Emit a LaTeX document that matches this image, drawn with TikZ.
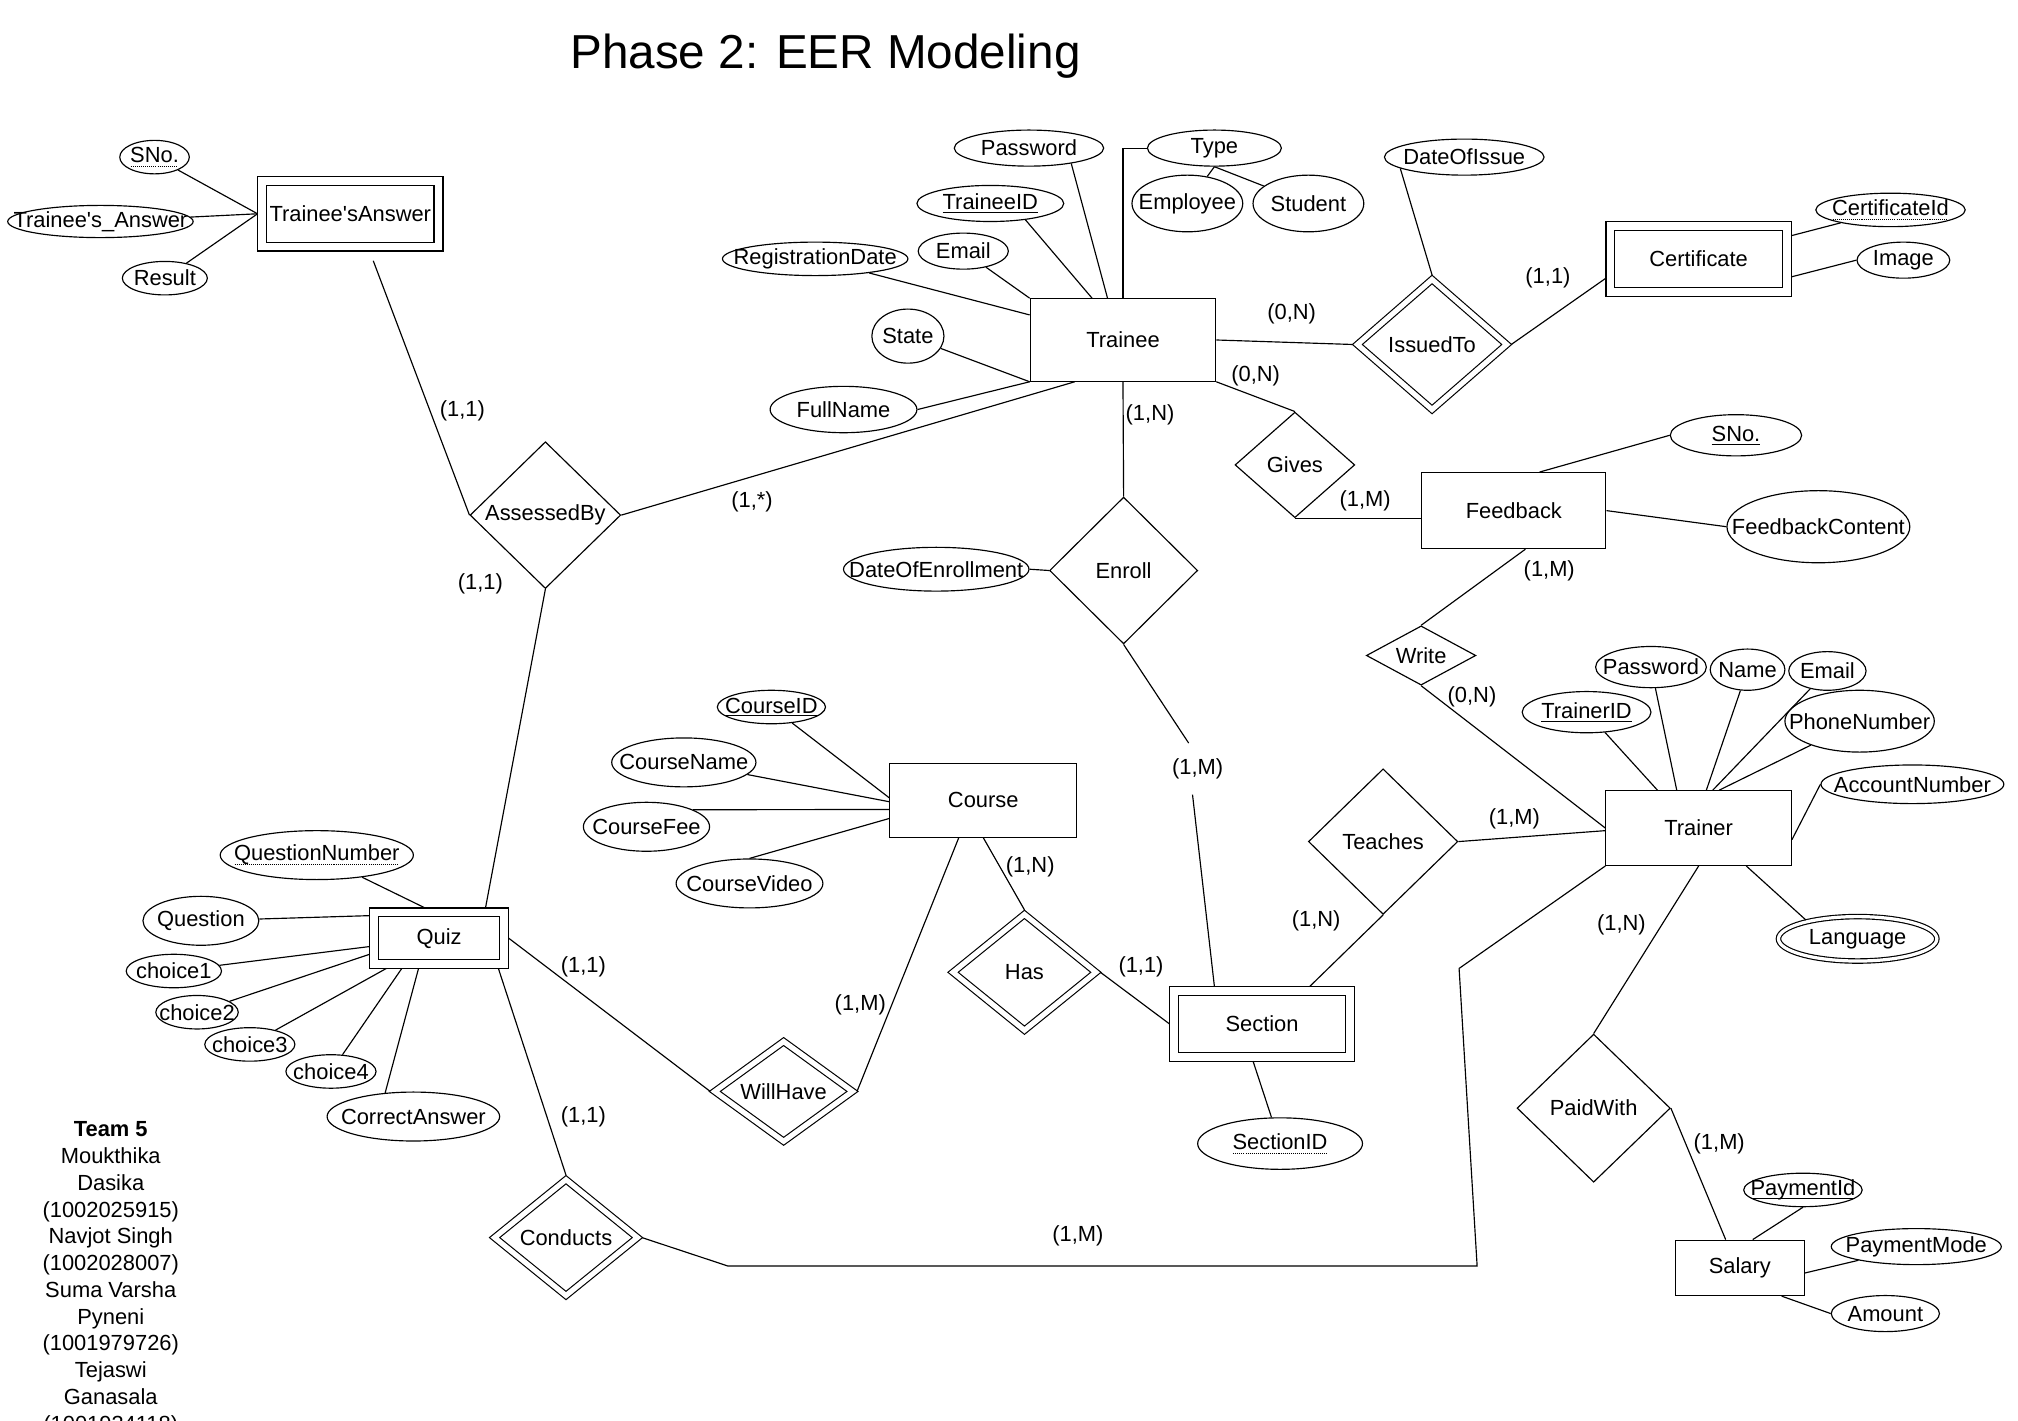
\documentclass[tikz,border=0pt]{standalone}
\usepackage{fontspec}
\setmainfont{Liberation Sans}[Ligatures=TeXOff]
\usetikzlibrary{shapes.geometric}
\newcommand{\attrtext}[1]{\makebox[0pt]{#1}}
\newcommand{\fullkey}[1]{\setbox0=\hbox{#1}\rlap{\raisebox{-2.5pt}{\rule{\wd0}{0.8pt}}}\box0}
\newcommand{\partkey}[1]{\setbox0=\hbox{#1}\rlap{\raisebox{-3pt}{\hbox to\wd0{\leaders\hbox to 1.6pt{\hss\rule{0.8pt}{0.7pt}\hss}\hfill}}}\box0}

\begin{document}
\begin{tikzpicture}[x=1pt,y=-1pt,line width=0.9pt,
every node/.style={font=\fontsize{17}{20}\selectfont},
entity/.style={rectangle,draw,inner sep=0pt},
weak/.style={entity,double,double distance=6pt,outer sep=3.5pt},
rel/.style={diamond,draw,inner sep=0pt,aspect=1},
wrel/.style={rel,double,double distance=4pt,outer sep=2.5pt},
attr/.style={ellipse,draw,inner sep=0pt},
mattr/.style={attr,double,double distance=2.5pt,outer sep=1.75pt},
card/.style={inner sep=1pt}]
\useasboundingbox (0,0) rectangle (1567,1102.7);
\node[font=\fontsize{37}{44}\selectfont] (title) at (641,44) {Phase 2: EER Modeling};

\node[entity, minimum width=144pt, minimum height=64pt] (trainee) at (872,264) {Trainee};
\node[entity, minimum width=143pt, minimum height=59pt] (feedback) at (1175.5,396.5) {Feedback};
\node[entity, minimum width=144pt, minimum height=58pt] (trainer) at (1319,643) {Trainer};
\node[entity, minimum width=145pt, minimum height=57pt] (course) at (763.5,621.5) {Course};
\node[entity, minimum width=100pt, minimum height=43pt] (salary) at (1351,984.5) {Salary};
\node[weak, minimum width=137pt, minimum height=51pt] (ta) at (272,166) {Trainee'sAnswer};
\node[weak, minimum width=137pt, minimum height=51pt] (cert) at (1319,201) {Certificate};
\node[weak, minimum width=137pt, minimum height=51pt] (section) at (980,795) {Section};
\node[weak, minimum width=101pt, minimum height=40pt] (quiz) at (341,728.5) {Quiz};

\node[rel, minimum width=117pt, minimum height=114pt] (ab) at (423.5,400) {AssessedBy};
\node[rel, minimum width=93pt, minimum height=82pt] (gives) at (1005.5,361) {Gives};
\node[rel, aspect=2, minimum width=85pt, minimum height=46pt] (write) at (1103.5,509) {Write};
\node[rel, minimum width=115pt, minimum height=114pt] (enroll) at (872.5,443) {Enroll};
\node[rel, minimum width=116pt, minimum height=113pt] (teaches) at (1074,653.5) {Teaches};
\node[rel, minimum width=119pt, minimum height=115pt] (paid) at (1237.5,860.5) {PaidWith};
\node[wrel, minimum width=118pt, minimum height=103pt] (issued) at (1112,267.5) {IssuedTo};
\node[wrel, minimum width=113pt, minimum height=92pt] (has) at (795.5,755) {Has};
\node[wrel, minimum width=109pt, minimum height=79pt] (wh) at (608.5,847.5) {WillHave};
\node[wrel, minimum width=113pt, minimum height=92pt] (cond) at (439.5,961) {Conducts};

\node[attr, minimum width=54pt, minimum height=26pt] (sno1) at (120,122) {\attrtext{\partkey{SNo.}}};
\node[attr, minimum width=144pt, minimum height=25pt] (tans) at (78,172) {\attrtext{Trainee's\_Answer}};
\node[attr, minimum width=66pt, minimum height=26pt] (result) at (128,216) {\attrtext{Result}};
\node[attr, minimum width=116pt, minimum height=28pt] (pw1) at (799,115) {\attrtext{Password}};
\node[attr, minimum width=104pt, minimum height=28pt] (ty) at (943,115) {\attrtext{Type}};
\node[attr, minimum width=86pt, minimum height=44pt] (emp) at (922,158) {\attrtext{Employee}};
\node[attr, minimum width=86pt, minimum height=44pt] (stu) at (1016,158) {\attrtext{Student}};
\node[attr, minimum width=114pt, minimum height=28pt] (tid) at (769,158) {\attrtext{\fullkey{TraineeID}}};
\node[attr, minimum width=70pt, minimum height=28pt] (em1) at (748,195) {\attrtext{Email}};
\node[attr, minimum width=144pt, minimum height=26pt] (rd) at (633,201) {\attrtext{RegistrationDate}};
\node[attr, minimum width=56pt, minimum height=42pt] (st) at (705,261) {\attrtext{State}};
\node[attr, minimum width=114pt, minimum height=36pt] (fn) at (655,318) {\attrtext{FullName}};
\node[attr, minimum width=124pt, minimum height=28pt] (doi) at (1137,122) {\attrtext{DateOfIssue}};
\node[attr, minimum width=116pt, minimum height=26pt] (cid) at (1468,163) {\attrtext{\partkey{CertificateId}}};
\node[attr, minimum width=72pt, minimum height=28pt] (img) at (1478,202) {\attrtext{Image}};
\node[attr, minimum width=102pt, minimum height=32pt] (sno2) at (1348,338) {\attrtext{\fullkey{SNo.}}};
\node[attr, minimum width=142pt, minimum height=56pt] (fc) at (1412,409) {\attrtext{FeedbackContent}};
\node[attr, minimum width=100pt, minimum height=32pt] (trid) at (1232,553) {\attrtext{\fullkey{TrainerID}}};
\node[attr, minimum width=86pt, minimum height=32pt] (pw2) at (1282,518) {\attrtext{Password}};
\node[attr, minimum width=58pt, minimum height=32pt] (nm) at (1357,520) {\attrtext{Name}};
\node[attr, minimum width=60pt, minimum height=30pt] (em2) at (1419,521) {\attrtext{Email}};
\node[attr, minimum width=116pt, minimum height=48pt] (ph) at (1444,560) {\attrtext{PhoneNumber}};
\node[attr, minimum width=142pt, minimum height=30pt] (acc) at (1485,609) {\attrtext{AccountNumber}};
\node[mattr, minimum width=123pt, minimum height=34.5pt] (lang) at (1442.5,729) {\attrtext{Language}};
\node[attr, minimum width=92pt, minimum height=26pt] (pid) at (1400,924) {\attrtext{\fullkey{PaymentId}}};
\node[attr, minimum width=132pt, minimum height=28pt] (pm) at (1488,968) {\attrtext{PaymentMode}};
\node[attr, minimum width=84pt, minimum height=28pt] (amt) at (1464,1020) {\attrtext{Amount}};
\node[attr, minimum width=144pt, minimum height=34pt] (doe) at (727,442) {\attrtext{DateOfEnrollment}};
\node[attr, minimum width=128pt, minimum height=40pt] (sid) at (994,888) {\attrtext{\partkey{SectionID}}};
\node[attr, minimum width=84pt, minimum height=26pt] (courseid) at (599,549) {\attrtext{\fullkey{CourseID}}};
\node[attr, minimum width=112pt, minimum height=38pt] (cname) at (531,592) {\attrtext{CourseName}};
\node[attr, minimum width=98pt, minimum height=38pt] (cfee) at (502,642) {\attrtext{CourseFee}};
\node[attr, minimum width=114pt, minimum height=38pt] (cvid) at (582,686) {\attrtext{CourseVideo}};
\node[attr, minimum width=150pt, minimum height=38pt] (qn) at (246,664) {\attrtext{\partkey{QuestionNumber}}};
\node[attr, minimum width=90pt, minimum height=38pt] (q) at (156,715) {\attrtext{Question}};
\node[attr, minimum width=74pt, minimum height=26pt] (ch1) at (135,754) {\attrtext{choice1}};
\node[attr, minimum width=64pt, minimum height=26pt] (ch2) at (153,786) {\attrtext{choice2}};
\node[attr, minimum width=70pt, minimum height=26pt] (ch3) at (194,811) {\attrtext{choice3}};
\node[attr, minimum width=70pt, minimum height=26pt] (ch4) at (257,832) {\attrtext{choice4}};
\node[attr, minimum width=134pt, minimum height=38pt] (ca) at (321,867) {\attrtext{CorrectAnswer}};

\coordinate (k1) at (1133,752);
\coordinate (k2) at (1147,983);
\coordinate (k3) at (565,983);
\coordinate (kE1) at (923,577);
\coordinate (kE2) at (926,617);

\draw (sno1) -- (ta.west);
\draw (tans) -- (ta.west);
\draw (result) -- (ta.west);
\draw[shorten <=8pt] ([xshift=15pt]ta.south) -- (ab.west);
\draw (ab.east) -- ([xshift=35pt]trainee.south west);
\draw (ab.south) -- ([xshift=36pt]quiz.north);

\draw (qn) -- ([xshift=-11pt]quiz.north);
\draw (q) -- ([yshift=-6pt]quiz.north west);
\draw (ch1) -- ([yshift=-30pt]quiz.north west);
\draw (ch2) -- ([yshift=-36pt]quiz.north west);
\draw (ch3) -- ([xshift=13pt]quiz.south west);
\draw (ch4) -- ([xshift=25pt]quiz.south west);
\draw (ca.140) -- ([xshift=38pt]quiz.south west);
\draw (quiz.east) -- (wh.west);
\draw ([xshift=46pt]quiz.south) -- (cond.north);

\draw (courseid) -- ([yshift=-27pt]course.north west);
\draw (cname) -- ([yshift=-30pt]course.north west);
\draw (cfee.20) -- ([yshift=-36pt]course.north west);
\draw (cvid.north) -- ([yshift=-43pt]course.north west);
\draw (course.south) -- (has.north);
\draw ([xshift=-19pt]course.south) -- (wh.east);
\draw (has.east) -- (section.west);

\draw (sid) -- ([xshift=-7pt]section.south);
\draw (enroll.south) -- (kE1);
\draw (kE2) -- ([xshift=-37pt]section.north);
\draw (teaches.south) -- ([xshift=37pt]section.north);

\draw (pw1.-20) -- ([xshift=-12pt]trainee.north);
\draw (trainee.north) |- (ty.west);
\draw (ty.south) -- (emp);
\draw (ty.south) -- (stu);
\draw (tid.-25) -- ([xshift=-24pt]trainee.north);
\draw (em1) -- (trainee.north west);
\draw (rd) -- ([yshift=-13pt]trainee.north west);
\draw (st) -- (trainee.south west);
\draw (fn.east) -- (trainee.south west);
\draw (trainee.east) -- (issued.west);
\draw (trainee.south east) -- (gives.north);
\draw (trainee.south) -- (enroll.north);
\draw (doe.east) -- (enroll.west);

\draw (doi.190) -- (issued.north);
\draw (issued.east) -- ([yshift=-15pt]cert.west);
\draw ([yshift=18pt]cert.east) -- (cid);
\draw ([yshift=-14pt]cert.east) -- (img.west);

\draw (gives.south) -- (gives.south -| feedback.west);
\draw ([xshift=20pt]feedback.north) -- (sno2.west);
\draw (feedback.east) -- (fc.west);
\draw ([xshift=9pt]feedback.south) -- (write.north);
\draw (write.south) -- (trainer.west);

\draw (trid) -- ([xshift=-32pt]trainer.north);
\draw (pw2) -- ([xshift=-17pt]trainer.north);
\draw (nm) -- ([xshift=6pt]trainer.north);
\draw (em2) -- ([xshift=11pt]trainer.north);
\draw (ph) -- ([xshift=16pt]trainer.north);
\draw ([yshift=-9pt]trainer.east) -- (acc.west);
\draw ([xshift=37pt]trainer.south) -- (lang.160);
\draw (teaches.east) -- ([yshift=-2pt]trainer.west);
\draw (trainer.south) -- (paid.north);
\draw (trainer.south west) -- (k1) -- (k2) -- (k3) -- (cond.east);

\draw (paid.east) -- ([xshift=-11pt]salary.north);
\draw (pid.south) -- ([xshift=10pt]salary.north);
\draw ([yshift=-4pt]salary.east) -- (pm);
\draw ([xshift=-18pt]salary.south east) -- (amt.west);

\node[card] (cAnsAB) at (359,319) {(1,1)};
\node[card] (cABTr) at (584,390) {(1,*)};
\node[card] (cABQz) at (373,453) {(1,1)};
\node[card] (cTrIs) at (1003,244) {(0,N)};
\node[card] (cTrGv) at (975,292) {(0,N)};
\node[card] (cTrEn) at (893,322) {(1,N)};
\node[card] (cIsCe) at (1202,216) {(1,1)};
\node[card] (cGvFb) at (1060,389) {(1,M)};
\node[card] (cFbWr) at (1203,443) {(1,M)};
\node[card] (cWrTr) at (1143,541) {(0,N)};
\node[card] (cEnSe) at (930,597) {(1,M)};
\node[card] (cTeTr) at (1176,636) {(1,M)};
\node[card] (cTeSe) at (1022,715) {(1,N)};
\node[card] (cTrPw) at (1259,718) {(1,N)};
\node[card] (cPwSa) at (1335,888) {(1,M)};
\node[card] (cCoHa) at (800,673) {(1,N)};
\node[card] (cCoWh) at (668,780) {(1,M)};
\node[card] (cHaSe) at (886,751) {(1,1)};
\node[card] (cQzWh) at (453,751) {(1,1)};
\node[card] (cQzCo) at (453,867) {(1,1)};
\node[card] (cCoTr) at (837,960) {(1,M)};

\node[align=center, anchor=north, inner sep=0pt, font=\fontsize{17}{20.8}\selectfont] (team) at (86,870.5) {\textbf{Team 5}\\Moukthika\\Dasika\\(1002025915)\\Navjot Singh\\(1002028007)\\Suma Varsha\\Pyneni\\(1001979726)\\Tejaswi\\Ganasala\\(1001934118)};
\end{tikzpicture}
\end{document}
